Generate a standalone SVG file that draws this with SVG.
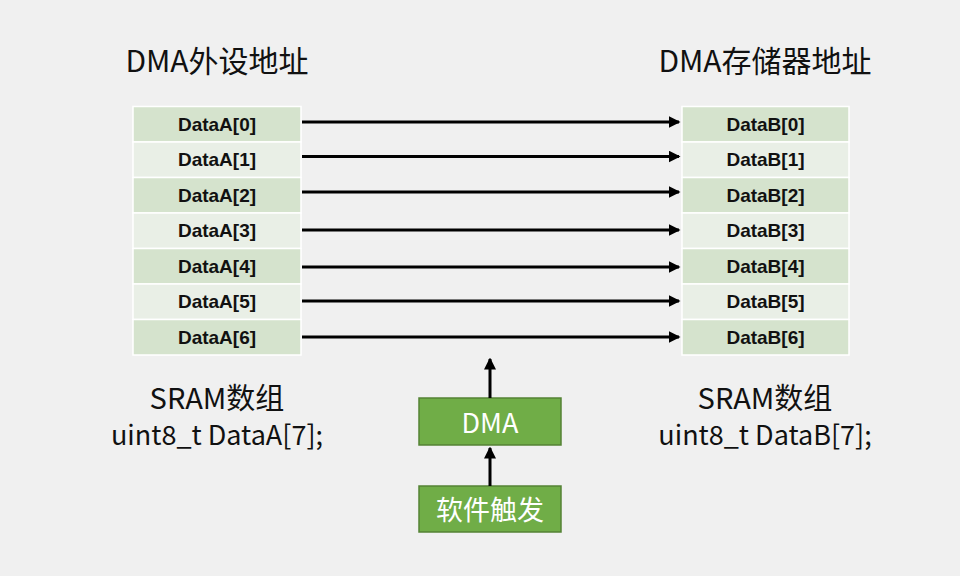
<svg xmlns="http://www.w3.org/2000/svg" width="960" height="576" viewBox="0 0 960 576">
<defs>
<style>
.bg{fill:#f0f0f0}
.d{fill:#d5e3cd;stroke:#ffffff;stroke-width:1.5}
.l{fill:#e9efe6;stroke:#ffffff;stroke-width:1.5}
.ct{font-family:"Liberation Sans","Noto Sans CJK SC",sans-serif;font-weight:bold;font-size:19px;fill:#111;text-anchor:middle;dominant-baseline:central}
.h{font-family:"Noto Sans CJK SC","Noto Sans",sans-serif;font-size:30px;fill:#111;text-anchor:middle}
.s{font-family:"Noto Sans CJK SC","Noto Sans",sans-serif;font-size:29px;fill:#111;text-anchor:middle}
.u{font-family:"Noto Sans CJK SC","Noto Sans",sans-serif;font-size:27px;fill:#111;text-anchor:middle}
.g{fill:#70ad47;stroke:#548235;stroke-width:1.5}
.gt{font-family:"Noto Sans CJK SC","Noto Sans",sans-serif;font-size:27px;fill:#ffffff;text-anchor:middle;dominant-baseline:central}
.a{stroke:#000;stroke-width:3;fill:none;marker-end:url(#ah)}
</style>
<marker id="ah" markerWidth="4" markerHeight="4" refX="3.5" refY="2" orient="auto" markerUnits="strokeWidth">
<path d="M0,0 L4,2 L0,4 z" fill="#000"/>
</marker>
</defs>
<rect class="bg" x="0" y="0" width="960" height="576"/>
<text class="h" x="217" y="72">DMA外设地址</text>
<text class="h" x="765" y="72">DMA存储器地址</text>
<g id="tableA">
<rect class="d" x="133" y="106.5" width="168" height="35.5"/><text class="ct" x="217" y="124.2">DataA[0]</text>
<rect class="l" x="133" y="142" width="168" height="35.5"/><text class="ct" x="217" y="159.7">DataA[1]</text>
<rect class="d" x="133" y="177.5" width="168" height="35.5"/><text class="ct" x="217" y="195.2">DataA[2]</text>
<rect class="l" x="133" y="213" width="168" height="35.5"/><text class="ct" x="217" y="230.7">DataA[3]</text>
<rect class="d" x="133" y="248.5" width="168" height="35.5"/><text class="ct" x="217" y="266.2">DataA[4]</text>
<rect class="l" x="133" y="284" width="168" height="35.5"/><text class="ct" x="217" y="301.7">DataA[5]</text>
<rect class="d" x="133" y="319.5" width="168" height="35.5"/><text class="ct" x="217" y="337.2">DataA[6]</text>
</g>
<g id="tableB">
<rect class="d" x="682" y="106.5" width="167" height="35.5"/><text class="ct" x="765.5" y="124.2">DataB[0]</text>
<rect class="l" x="682" y="142" width="167" height="35.5"/><text class="ct" x="765.5" y="159.7">DataB[1]</text>
<rect class="d" x="682" y="177.5" width="167" height="35.5"/><text class="ct" x="765.5" y="195.2">DataB[2]</text>
<rect class="l" x="682" y="213" width="167" height="35.5"/><text class="ct" x="765.5" y="230.7">DataB[3]</text>
<rect class="d" x="682" y="248.5" width="167" height="35.5"/><text class="ct" x="765.5" y="266.2">DataB[4]</text>
<rect class="l" x="682" y="284" width="167" height="35.5"/><text class="ct" x="765.5" y="301.7">DataB[5]</text>
<rect class="d" x="682" y="319.5" width="167" height="35.5"/><text class="ct" x="765.5" y="337.2">DataB[6]</text>
</g>
<g id="labelA">
<text class="s" x="217" y="409">SRAM数组</text>
<text class="u" x="217" y="445">uint8_t DataA[7];</text>
</g>
<g id="labelB">
<text class="s" x="765" y="409">SRAM数组</text>
<text class="u" x="765" y="445">uint8_t DataB[7];</text>
</g>
<g id="dma">
<rect class="g" x="419" y="398" width="142" height="47"/>
<text class="gt" x="490" y="421">DMA</text>
</g>
<g id="trigger">
<rect class="g" x="419" y="486" width="142" height="46"/>
<text class="gt" x="490" y="508">软件触发</text>
</g>
<g id="connectors">
<line class="a" x1="302" y1="122" x2="679" y2="122"/>
<line class="a" x1="302" y1="156.5" x2="679" y2="156.5"/>
<line class="a" x1="302" y1="192" x2="679" y2="192"/>
<line class="a" x1="302" y1="230" x2="679" y2="230"/>
<line class="a" x1="302" y1="267" x2="679" y2="267"/>
<line class="a" x1="302" y1="301" x2="679" y2="301"/>
<line class="a" x1="302" y1="337" x2="679" y2="337"/>
<line class="a" x1="490" y1="398" x2="490" y2="359"/>
<line class="a" x1="490" y1="486" x2="490" y2="448"/>
</g>
</svg>
